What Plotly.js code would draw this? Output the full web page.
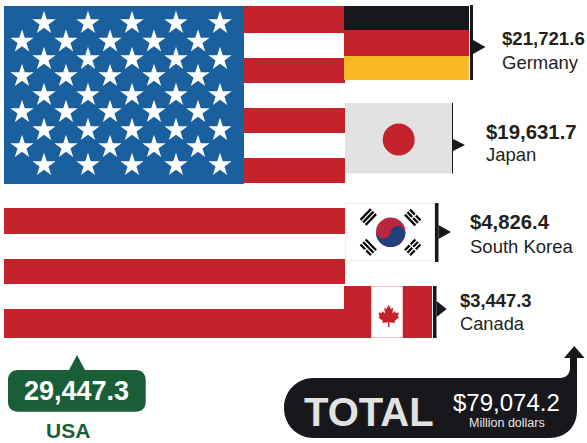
<!DOCTYPE html>
<html>
<head>
<meta charset="utf-8">
<script src="https://cdn.plot.ly/plotly-3.0.1.min.js"></script>
<style>html,body{margin:0;padding:0;background:#fff}#chart{width:587px;height:443px}</style>
</head>
<body>
<div id="chart"></div>
<script>
// Data
var countries = ['USA', 'Germany', 'Japan', 'South Korea', 'Canada'];
var amounts = [29447.3, 21721.6, 19631.7, 4826.4, 3447.3];
var totalAmount = 79074.2;
var totalUnit = 'Million dollars';

// Colours
var RED = '#c5232c', BLUE = '#1a609e', BLACK = '#18171c', GOLD = '#fdb827',
    GREY = '#e2e2e2', GREEN = '#1a5e37', TEXT = '#231f20', KBLUE = '#1f3f7d', KRED = '#b9263f';

// Pictorial layout: [left, right, top, bottom, colour]
var flagBars = [
  [4, 345, 6, 33, RED], [4, 345, 58, 83, RED], [4, 345, 108, 133, RED], [4, 345, 158, 183, RED],
  [4, 345, 208, 234, RED], [4, 345, 259, 284, RED], [4, 345, 309, 338, RED],
  [4, 244, 6, 184, BLUE],
  [344, 469, 6, 30, BLACK], [344, 469, 30, 56, RED], [344, 469, 56, 80, GOLD], [470, 473, 5, 80, BLACK],
  [345, 452, 103, 173.5, GREY], [452, 453, 103, 173.5, BLACK],
  [345, 435, 203, 261, '#eeeeee'], [346, 434, 204, 260, '#ffffff'], [435, 438.5, 203, 262, BLACK],
  [344, 432, 286, 338, RED], [371, 403, 286, 338, '#f0c4c6'], [372, 402, 287, 337, '#ffffff'], [433, 436.5, 286, 338, BLACK]
];
var starColsA = [44, 88, 132, 176, 220];
var starColsB = [22, 66, 110, 154, 198];
var starRowsA = [23, 59, 95, 130, 165];
var starRowsB = [41.5, 76, 112, 147];

var fmt = function (v) {
  return v.toLocaleString('en-US', {minimumFractionDigits: 1, maximumFractionDigits: 1});
};

var barTrace = {
  type: 'bar', orientation: 'h',
  base: flagBars.map(function (b) { return b[0]; }),
  x: flagBars.map(function (b) { return b[1] - b[0]; }),
  y: flagBars.map(function (b) { return (b[2] + b[3]) / 2; }),
  width: flagBars.map(function (b) { return b[3] - b[2]; }),
  marker: {color: flagBars.map(function (b) { return b[4]; }), line: {width: 0}},
  hoverinfo: 'skip', showlegend: false
};

var sx = [], sy = [];
starRowsA.forEach(function (r) { starColsA.forEach(function (c) { sx.push(c); sy.push(r); }); });
starRowsB.forEach(function (r) { starColsB.forEach(function (c) { sx.push(c); sy.push(r); }); });
var starTrace = {
  type: 'scatter', mode: 'markers', x: sx, y: sy,
  marker: {symbol: 'star', size: 17.5, color: '#ffffff', opacity: 1, line: {width: 0}},
  hoverinfo: 'skip', showlegend: false
};
var discTrace = {
  type: 'scatter', mode: 'markers', x: [398.7, 390.7], y: [139.5, 232.3],
  marker: {symbol: 'circle', size: [32, 29.5], color: [RED, KRED], opacity: 1, line: {width: 0}},
  hoverinfo: 'skip', showlegend: false
};

function poly(pts) {
  return 'M' + pts.map(function (p) { return p[0].toFixed(2) + ',' + p[1].toFixed(2); }).join('L') + 'Z';
}
function fill(path, color) {
  return {type: 'path', path: path, fillcolor: color, line: {width: 0}, xref: 'x', yref: 'y'};
}
function seg(x0, y0, x1, y1, w) {
  return {type: 'line', x0: x0, y0: y0, x1: x1, y1: y1, line: {color: '#000000', width: w}, xref: 'x', yref: 'y'};
}

var shapes = [];
// Pointers at the end of each flag
shapes.push(fill(poly([[473, 40], [485.5, 47], [473, 54]]), BLACK));
shapes.push(fill(poly([[453, 139], [465, 145], [453, 151]]), BLACK));
shapes.push(fill(poly([[438.5, 225], [451, 232], [438.5, 239]]), BLACK));
shapes.push(fill(poly([[436.5, 301], [446.7, 309], [436.5, 317]]), BLACK));

// Taegeuk lower half
(function () {
  var cx = 390.7, cy = 232.3, r = 14.7, tilt = 0.16, pts = [], i, a;
  for (i = 0; i <= 48; i++) { a = Math.PI + tilt - Math.PI * i / 48; pts.push([cx + r * Math.cos(a), cy + r * Math.sin(a)]); }
  // back from the right end to the centre (bulge up), then centre to the left end (bulge down)
  for (i = 0; i <= 24; i++) {
    a = tilt - Math.PI * i / 24;
    pts.push([cx + r / 2 * Math.cos(tilt) + r / 2 * Math.cos(a), cy + r / 2 * Math.sin(tilt) + r / 2 * Math.sin(a)]);
  }
  for (i = 0; i <= 24; i++) {
    a = tilt + Math.PI * i / 24;
    pts.push([cx - r / 2 * Math.cos(tilt) + r / 2 * Math.cos(a), cy - r / 2 * Math.sin(tilt) + r / 2 * Math.sin(a)]);
  }
  shapes.push(fill(poly(pts), KBLUE));
})();

// Trigrams: centre, direction along the bars, number of gaps
function trigram(cx, cy, ang, split) {
  var dx = Math.cos(ang), dy = Math.sin(ang), nx = -dy, ny = dx, len = 7.5, step = 3.6;
  split.forEach(function (hasGap, k) {
    var ox = cx + nx * step * (k - 1), oy = cy + ny * step * (k - 1);
    if (hasGap) {
      shapes.push(seg(ox - dx * len, oy - dy * len, ox - dx * 0.8, oy - dy * 0.8, 2.2));
      shapes.push(seg(ox + dx * 0.8, oy + dy * 0.8, ox + dx * len, oy + dy * len, 2.2));
    } else {
      shapes.push(seg(ox - dx * len, oy - dy * len, ox + dx * len, oy + dy * len, 2.2));
    }
  });
}
var A = 0.8;
trigram(368.3, 217, -A, [0, 0, 0]);
trigram(412.7, 217.5, A, [1, 1, 0]);
trigram(368.3, 247.3, A, [0, 0, 1]);
trigram(412.7, 247.3, -A, [1, 1, 1]);

// Maple leaf
shapes.push(fill(poly([
  [388.7, 304.7], [391, 309], [393.2, 307.8], [392.3, 313.5], [395, 311], [395.6, 313], [399, 312.4],
  [397.8, 316.5], [399.2, 317.2], [394.5, 321], [395.2, 323], [389.4, 322.2], [389.4, 327], [388, 327],
  [388, 322.2], [382.2, 323], [382.9, 321], [378.2, 317.2], [379.6, 316.5], [378.4, 312.4], [381.8, 313],
  [382.4, 311], [385.1, 313.5], [384.2, 307.8], [386.4, 309]
]), RED));

// USA badge
shapes.push(fill('M18,370H69L77,355L85,370H135.7C142,370 145.7,374 145.7,380V401.7C145.7,408 142,411.7 135.7,411.7H18C12,411.7 8,408 8,401.7V380C8,374 12,370 18,370Z', GREEN));
// Total banner with its arrow
shapes.push(fill('M314,378H560C566,378 570,374 570,368V358H564L574.3,346L584.6,358H577V410C577,427 566,438 549,438H314C297,438 284,425 284,408C284,391 297,378 314,378Z', BLACK));

function label(x, y, text, size, color, bold, anchor) {
  return {
    x: x, y: y, xref: 'x', yref: 'y', text: bold ? '<b>' + text + '</b>' : text, showarrow: false,
    xanchor: anchor || 'left', yanchor: 'middle', borderpad: 0, borderwidth: 0,
    font: {family: '"Liberation Sans", Arial, sans-serif', size: size, color: color}
  };
}
var annotations = [
  label(501.5, 38.5, '$' + fmt(amounts[1]), 18.6, TEXT, true),
  label(502, 62, countries[1], 18.5, TEXT, false),
  label(485.5, 132, '$' + fmt(amounts[2]), 20.4, TEXT, true),
  label(486, 154, countries[2], 18.5, TEXT, false),
  label(470, 222, '$' + fmt(amounts[3]), 20.3, TEXT, true),
  label(470, 246, countries[3], 18.5, TEXT, false),
  label(459.5, 300, '$' + fmt(amounts[4]), 18.4, TEXT, true),
  label(459.5, 323, countries[4], 18.3, TEXT, false),
  label(76.5, 391, fmt(amounts[0]), 27, '#ffffff', true, 'center'),
  label(67.5, 430.8, countries[0], 21, GREEN, true, 'center'),
  label(369, 412, 'TOTAL', 40, GREY, true, 'center'),
  label(506, 402, '$' + fmt(totalAmount), 24, '#ffffff', false, 'center'),
  label(506.5, 423, totalUnit, 12.5, '#e6e6e6', false, 'center')
];

var hidden = {visible: false, fixedrange: true, autorange: false};
var layout = {
  width: 587, height: 443,
  margin: {l: 0, r: 0, t: 0, b: 0, pad: 0},
  paper_bgcolor: '#ffffff', plot_bgcolor: '#ffffff',
  xaxis: Object.assign({range: [0, 587]}, hidden),
  yaxis: Object.assign({range: [443, 0]}, hidden),
  barmode: 'overlay', showlegend: false,
  shapes: shapes, annotations: annotations
};
Plotly.newPlot('chart', [barTrace, discTrace, starTrace], layout, {displayModeBar: false, staticPlot: true});
</script>
</body>
</html>
